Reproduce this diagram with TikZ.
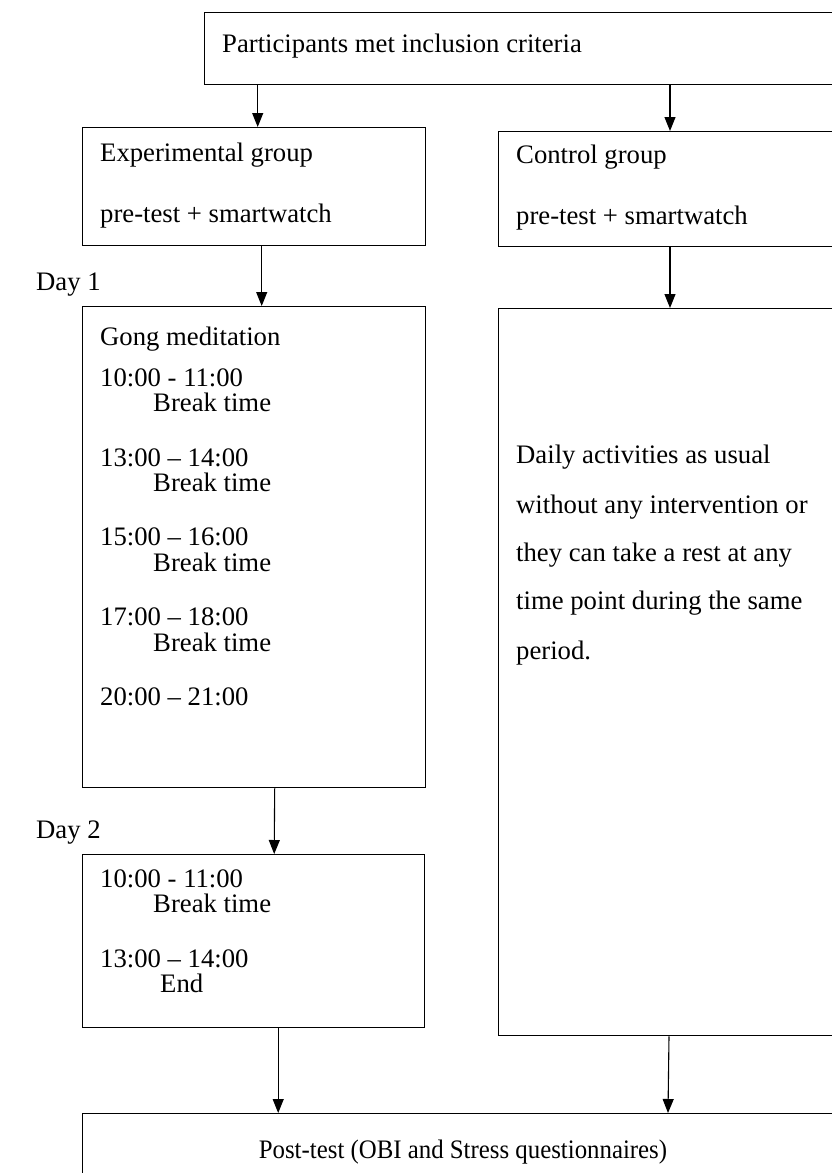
\documentclass[tikz,border=0pt]{standalone}
\usepackage{fontspec}
\setmainfont{Liberation Serif}
\usetikzlibrary{arrows.meta}
\begin{document}
\begin{tikzpicture}[x=1pt,y=-1pt,
 box/.style={draw,line width=1.4pt,inner sep=0pt,anchor=north west,rectangle},
 txt/.style={anchor=base west,inner sep=0pt,font=\fontsize{26.7}{30}\selectfont},
 arr/.style={line width=1.1pt,-{Triangle[width=11pt,length=14pt]}}]
\useasboundingbox (0,0) rectangle (832,1173);
% boxes
\node[box,minimum width=700pt,minimum height=72pt] (top) at (204,12) {};
\node[box,minimum width=343pt,minimum height=118pt] (exp) at (82,127) {};
\node[box,minimum width=400pt,minimum height=115pt] (ctrl) at (498,131) {};
\node[box,minimum width=343pt,minimum height=481pt] (gong) at (82,306) {};
\node[box,minimum width=400pt,minimum height=727pt] (daily) at (498,308) {};
\node[box,minimum width=342pt,minimum height=173pt] (day2) at (82,854) {};
\node[box,minimum width=800pt,minimum height=150pt] (post) at (82,1113) {};
% texts
\node[txt] (t0) at (222,52) {Participants met inclusion criteria};
\node[txt] (e1) at (100,161) {Experimental group};
\node[txt] (e2) at (100,222) {pre-test + smartwatch};
\node[txt] (c1) at (516,163) {Control group};
\node[txt] (c2) at (516,224) {pre-test + smartwatch};
\node[txt] (d1) at (36,290) {Day 1};
\node[txt] (g0) at (100,345) {Gong meditation};
\node[txt] (g1) at (100,386) {10:00 - 11:00};
\node[txt] (g1b) at (153,411) {Break time};
\node[txt] (g2) at (100,466) {13:00 – 14:00};
\node[txt] (g2b) at (153,491) {Break time};
\node[txt] (g3) at (100,545) {15:00 – 16:00};
\node[txt] (g3b) at (153,571) {Break time};
\node[txt] (g4) at (100,625) {17:00 – 18:00};
\node[txt] (g4b) at (153,651) {Break time};
\node[txt] (g5) at (100,705) {20:00 – 21:00};
\node[txt] (d2) at (36,838) {Day 2};
\node[txt] (h1) at (100,887) {10:00 - 11:00};
\node[txt] (h1b) at (153,912) {Break time};
\node[txt] (h2) at (100,967) {13:00 – 14:00};
\node[txt] (h2b) at (160,992) {End};
\node[txt] (l1) at (516,463) {Daily activities as usual};
\node[txt] (l2) at (516,513) {without any intervention or};
\node[txt] (l3) at (516,561) {they can take a rest at any};
\node[txt] (l4) at (516,609) {time point during the same};
\node[txt] (l5) at (516,659) {period.};
\node[txt,anchor=base] (pt) at (463,1158) {\scalebox{0.93}[1]{Post-test (OBI and Stress questionnaires)}};
% arrows
\draw[arr] ([xshift=3.5pt]exp.north |- top.south) -- ([xshift=3.5pt]exp.north);
\draw[arr] ([xshift=172pt]ctrl.north west |- top.south) -- ([xshift=172pt]ctrl.north west);
\draw[arr] ([xshift=7.5pt]exp.south) -- ([xshift=7.5pt]gong.north);
\draw[arr] ([xshift=172pt]ctrl.south west) -- ([xshift=172pt]daily.north west);
\draw[arr] ([xshift=20.5pt]gong.south) -- ([xshift=20.5pt]day2.north);
\draw[arr] ([xshift=24.5pt]day2.south) -- ([xshift=24.5pt]day2.south |- post.north);
\draw[arr] ([xshift=171pt]daily.south west) -- ([xshift=170pt]daily.south west |- post.north);
\end{tikzpicture}
\end{document}
